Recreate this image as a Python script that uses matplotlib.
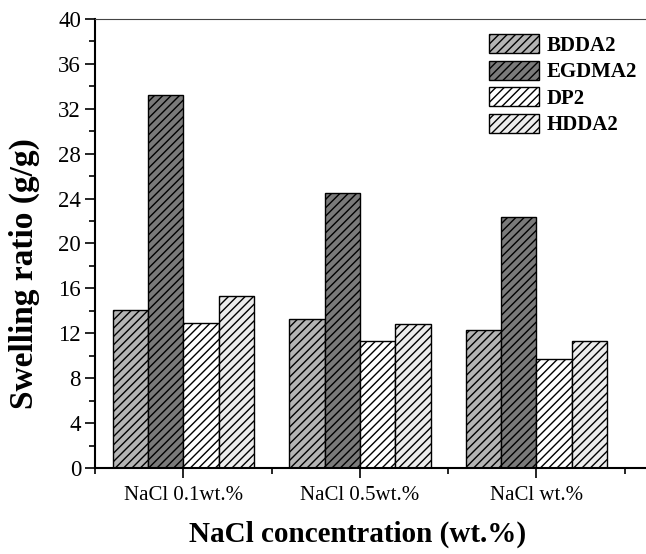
import numpy as np
import matplotlib
matplotlib.use('Agg')
import matplotlib.pyplot as plt
from matplotlib.ticker import MultipleLocator

plt.rcParams['font.family'] = ['Liberation Serif', 'DejaVu Serif']
plt.rcParams['hatch.linewidth'] = 1.0

# 数据
categories = ['NaCl 0.1wt.%', 'NaCl 0.5wt.%', 'NaCl wt.%']
series_names = ['BDDA2', 'EGDMA2', 'DP2', 'HDDA2']
bdda2 = [14.1, 13.3, 12.3]
egdma2 = [33.2, 24.5, 22.4]
dp2 = [12.9, 11.3, 9.7]
hdda2 = [15.3, 12.8, 11.3]

series = [bdda2, egdma2, dp2, hdda2]
face_colors = ['#b4b4b4', '#7a7a7a', '#ffffff', '#ececec']

fig = plt.figure(figsize=(6.46, 5.54), dpi=100)
ax = fig.add_axes([0.147, 0.155, 0.853, 0.811])

x = np.arange(1, len(categories) + 1)
width = 0.2
offsets = [-1.5, -0.5, 0.5, 1.5]
for vals, name, fc, off in zip(series, series_names, face_colors, offsets):
    ax.bar(x + off * width, vals, width, color=fc, edgecolor='black',
           linewidth=1.0, hatch='////', label=name)

ax.set_xlim(0.5, 3.62)
ax.set_ylim(0, 40)
ax.set_xticks(x)
ax.set_xticklabels(categories, fontsize=15)
ax.xaxis.set_minor_locator(MultipleLocator(1.0, offset=0.5))
ax.yaxis.set_major_locator(MultipleLocator(4))
ax.yaxis.set_minor_locator(MultipleLocator(2))

ax.tick_params(axis='both', which='major', direction='out', length=7, width=1.2)
ax.tick_params(axis='y', which='major', labelsize=16.5, pad=3)
ax.tick_params(axis='both', which='minor', direction='out', length=4, width=1.2)
ax.tick_params(axis='x', which='major', pad=6)

ax.spines['right'].set_visible(False)
ax.spines['left'].set_linewidth(1.5)
ax.spines['bottom'].set_linewidth(1.5)
ax.spines['top'].set_linewidth(0.8)
ax.spines['top'].set_color('#444444')

ax.set_ylabel('Swelling ratio (g/g)', fontsize=24, fontweight='bold')
ax.yaxis.set_label_coords(-0.099, 0.432)
ax.set_xlabel('NaCl concentration (wt.%)', fontsize=21, fontweight='bold')
ax.xaxis.set_label_coords(0.477, -0.118)

ax.legend(loc='upper right', bbox_to_anchor=(1.006, 0.993), frameon=False,
          prop={'weight': 'bold', 'size': 15}, handlelength=2.4, handleheight=1.0,
          labelspacing=0.24, handletextpad=0.35, borderaxespad=0.2)

plt.savefig('out.png', dpi=100)
plt.close()
